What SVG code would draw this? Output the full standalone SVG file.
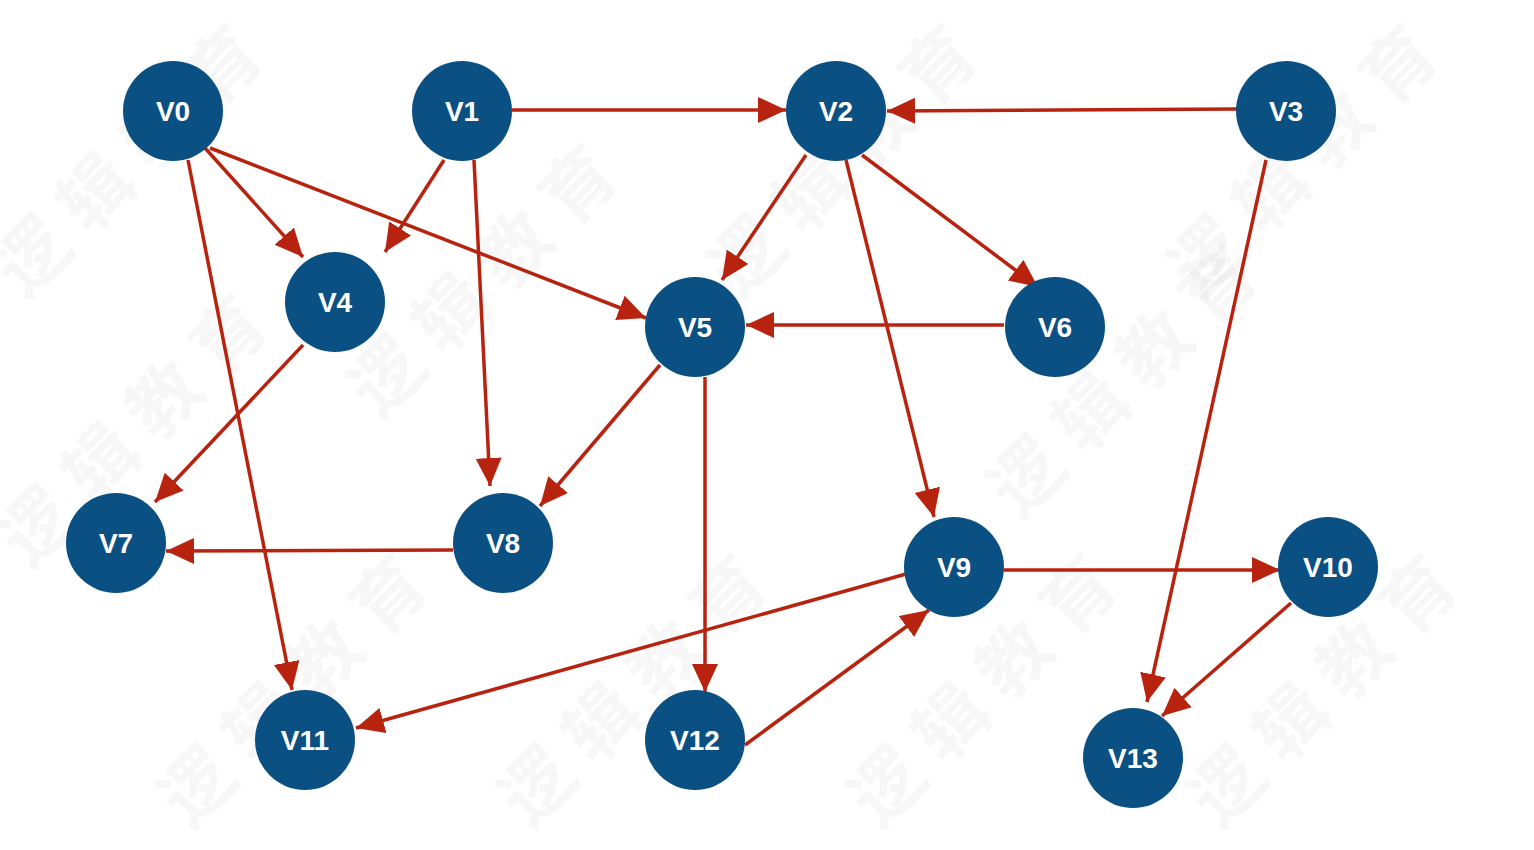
<svg xmlns="http://www.w3.org/2000/svg" width="1534" height="850" viewBox="0 0 1534 850">
<style>
.n{fill:#0b5082}
.t{fill:#fff;font-family:"Liberation Sans",Arial,sans-serif;font-weight:bold;font-size:28px;text-anchor:middle;dominant-baseline:central}
.e{stroke:#b8230f;stroke-width:3.5;fill:none;marker-end:url(#ah)}
.w{fill:#000;fill-opacity:0.03;font-family:"Noto Sans CJK SC",sans-serif;font-weight:bold;font-size:72px;letter-spacing:18px}
</style>
<defs>
<marker id="ah" markerUnits="userSpaceOnUse" markerWidth="30" markerHeight="28" refX="28" refY="13" orient="auto">
<path d="M0,0 L28,13 L0,26 Z" fill="#b8230f"/>
</marker>
</defs>
<rect width="1534" height="850" fill="#fff"/>
<g id="watermark">
<text class="w" transform="translate(25,300) rotate(-45)">逻辑教育</text>
<text class="w" transform="translate(30,570) rotate(-45)">逻辑教育</text>
<text class="w" transform="translate(380,420) rotate(-45)">逻辑教育</text>
<text class="w" transform="translate(190,830) rotate(-45)">逻辑教育</text>
<text class="w" transform="translate(530,830) rotate(-45)">逻辑教育</text>
<text class="w" transform="translate(740,300) rotate(-45)">逻辑教育</text>
<text class="w" transform="translate(880,830) rotate(-45)">逻辑教育</text>
<text class="w" transform="translate(1020,520) rotate(-45)">逻辑教育</text>
<text class="w" transform="translate(1200,300) rotate(-45)">逻辑教育</text>
<text class="w" transform="translate(1220,830) rotate(-45)">逻辑教育</text>
</g>
<g id="connectors">
<line class="e" x1="205" y1="148" x2="303" y2="257"/>
<line class="e" x1="210" y1="148" x2="646" y2="318"/>
<line class="e" x1="188" y1="160" x2="292" y2="690"/>
<line class="e" x1="512" y1="110" x2="786" y2="110"/>
<line class="e" x1="444" y1="160" x2="385" y2="252"/>
<line class="e" x1="474" y1="160" x2="490" y2="486"/>
<line class="e" x1="806" y1="155" x2="722" y2="280"/>
<line class="e" x1="862" y1="155" x2="1038" y2="287"/>
<line class="e" x1="846" y1="160" x2="934" y2="517"/>
<line class="e" x1="1237" y1="109" x2="887" y2="111"/>
<line class="e" x1="1266" y1="160" x2="1147" y2="702"/>
<line class="e" x1="303" y1="345" x2="155" y2="502"/>
<line class="e" x1="660" y1="365" x2="540" y2="506"/>
<line class="e" x1="705" y1="377" x2="705" y2="692"/>
<line class="e" x1="1004" y1="325" x2="746" y2="325"/>
<line class="e" x1="453" y1="550" x2="166" y2="551"/>
<line class="e" x1="1004" y1="570" x2="1280" y2="570"/>
<line class="e" x1="906" y1="574" x2="356" y2="728"/>
<line class="e" x1="1291" y1="603" x2="1162" y2="716"/>
<line class="e" x1="745" y1="745" x2="929" y2="610"/>
</g>
<g id="V0"><circle class="n" cx="173" cy="111" r="50"/><text class="t" x="173" y="111">V0</text></g>
<g id="V1"><circle class="n" cx="462" cy="111" r="50"/><text class="t" x="462" y="111">V1</text></g>
<g id="V2"><circle class="n" cx="836" cy="111" r="50"/><text class="t" x="836" y="111">V2</text></g>
<g id="V3"><circle class="n" cx="1286" cy="111" r="50"/><text class="t" x="1286" y="111">V3</text></g>
<g id="V4"><circle class="n" cx="335" cy="302" r="50"/><text class="t" x="335" y="302">V4</text></g>
<g id="V5"><circle class="n" cx="695" cy="327" r="50"/><text class="t" x="695" y="327">V5</text></g>
<g id="V6"><circle class="n" cx="1055" cy="327" r="50"/><text class="t" x="1055" y="327">V6</text></g>
<g id="V7"><circle class="n" cx="116" cy="543" r="50"/><text class="t" x="116" y="543">V7</text></g>
<g id="V8"><circle class="n" cx="503" cy="543" r="50"/><text class="t" x="503" y="543">V8</text></g>
<g id="V9"><circle class="n" cx="954" cy="567" r="50"/><text class="t" x="954" y="567">V9</text></g>
<g id="V10"><circle class="n" cx="1328" cy="567" r="50"/><text class="t" x="1328" y="567">V10</text></g>
<g id="V11"><circle class="n" cx="305" cy="740" r="50"/><text class="t" x="305" y="740">V11</text></g>
<g id="V12"><circle class="n" cx="695" cy="740" r="50"/><text class="t" x="695" y="740">V12</text></g>
<g id="V13"><circle class="n" cx="1133" cy="758" r="50"/><text class="t" x="1133" y="758">V13</text></g>
</svg>
